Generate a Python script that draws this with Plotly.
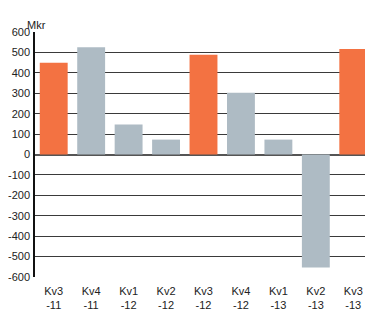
import plotly.graph_objects as go

categories = ["Kv3<br>-11", "Kv4<br>-11", "Kv1<br>-12", "Kv2<br>-12", "Kv3<br>-12",
              "Kv4<br>-12", "Kv1<br>-13", "Kv2<br>-13", "Kv3<br>-13"]
values = [450, 525, 147, 73, 488, 302, 73, -553, 517]
is_q3 = [True, False, False, False, True, False, False, False, True]
y_ticks = [600, 500, 400, 300, 200, 100, 0, -100, -200, -300, -400, -500, -600]

ORANGE = "#F37242"
GRAY = "#AEBBC4"
colors = [ORANGE if q else GRAY for q in is_q3]

fig = go.Figure(go.Bar(x=categories, y=values, marker=dict(color=colors, line=dict(width=0)),
                       width=0.745))

# page body has an 8px default margin, so the figure is sized to fit the window
font = dict(family="Liberation Sans, Arial, Helvetica, sans-serif", size=11, color="#222")
fig.update_layout(
    width=365, height=303,
    margin=dict(l=27, r=1, t=24, b=34),
    plot_bgcolor="white", paper_bgcolor="white",
    showlegend=False,
    font=font,
    xaxis=dict(showgrid=False, showline=False, ticks="", tickfont=dict(size=11, color="#222"),
               ticklabelstandoff=6, automargin=False, fixedrange=True),
    yaxis=dict(range=[-600, 600], tickvals=y_ticks, ticktext=[str(v) for v in y_ticks],
               showgrid=True, gridcolor="#3a3a3a", gridwidth=1,
               zeroline=True, zerolinecolor="#555", zerolinewidth=1.5,
               showline=True, linecolor="#111", linewidth=1.5,
               ticks="", ticklabelstandoff=1, tickfont=dict(size=11, color="#222"),
               automargin=False, fixedrange=True),
    annotations=[dict(text="Mkr", xref="paper", yref="paper", x=0, y=1.0, xshift=-10, yshift=-1,
                      xanchor="left", yanchor="bottom", showarrow=False,
                      font=dict(size=11, color="#222"))],
)

fig.write_html("out.html")
